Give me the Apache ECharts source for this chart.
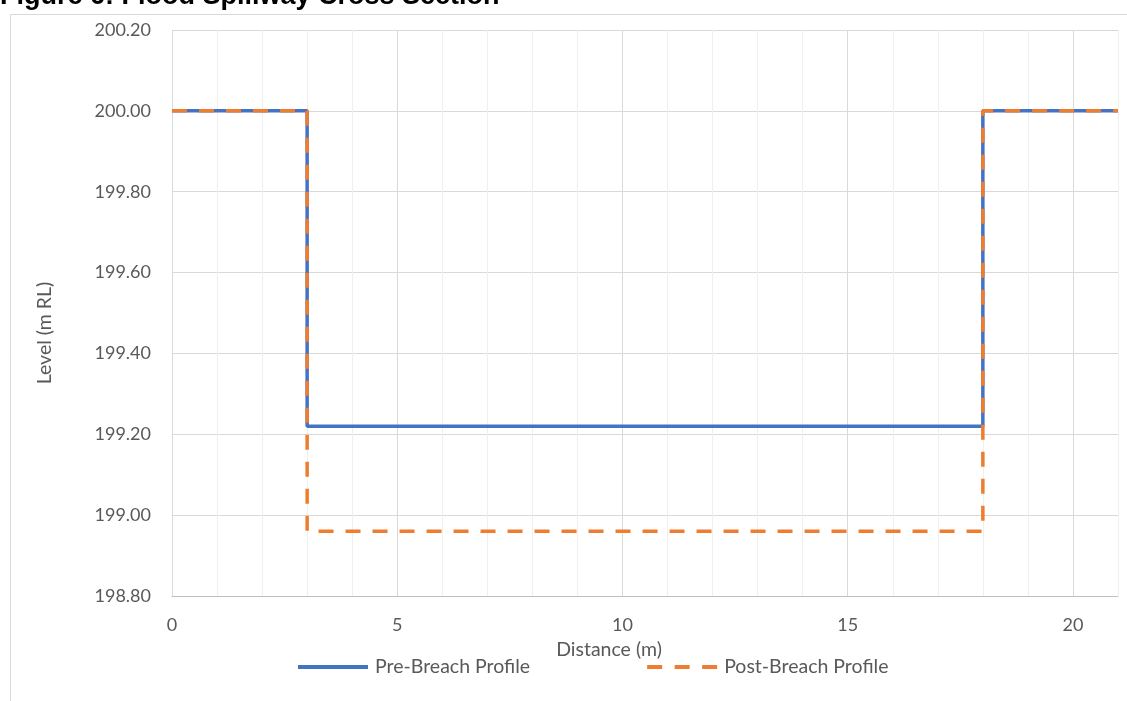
<!DOCTYPE html>
<html>
<head>
<meta charset="utf-8">
<script src="https://cdn.jsdelivr.net/npm/echarts@6/dist/echarts.min.js"></script>
<style>html,body{margin:0;padding:0;background:#fff;}#c{width:1127px;height:701px;}</style>
</head>
<body>
<div id="c"></div>
<script>
const titleText = 'Figure 6: Flood Spillway Cross Section';
const seriesNames = ['Pre-Breach Profile', 'Post-Breach Profile'];
const preX = [0, 3, 3, 18, 18, 21];
const preY = [200.00, 200.00, 199.22, 199.22, 200.00, 200.00];
const postX = [0, 3, 3, 18, 18, 21];
const postY = [200.00, 200.00, 198.96, 198.96, 200.00, 200.00];
const xAxisName = 'Distance (m)';
const yAxisName = 'Level (m RL)';

const font = 'Lato, "Open Sans", sans-serif';
const grey = '#595959';
const chart = echarts.init(document.getElementById('c'));
chart.setOption({
  animation: false,
  backgroundColor: '#fff',
  graphic: [
    {
      type: 'rect', shape: {x: 10.5, y: 14.5, width: 1200, height: 800},
      style: {fill: 'none', stroke: '#d9d9d9', lineWidth: 1}, silent: true, z: -1
    },
    {
      type: 'text', x: 0, y: -17,
      style: {text: titleText, fontFamily: '"Liberation Sans", Arial, sans-serif', fontWeight: 'bold',
              fontSize: 27, fill: '#000', align: 'left', verticalAlign: 'top'}
    },
    {
      type: 'text', x: 45, y: 333, rotation: Math.PI / 2,
      style: {text: yAxisName, fontFamily: font, fontSize: 19.5, fill: grey, align: 'center', verticalAlign: 'middle'}
    },
    {
      type: 'text', x: 609, y: 650,
      style: {text: xAxisName, fontFamily: font, fontSize: 19.5, fill: grey, align: 'center', verticalAlign: 'middle'}
    }
  ],
  grid: {left: 172, right: 9, top: 30, bottom: 105},
  legend: {
    left: 298, top: 657, padding: 0, itemWidth: 70, itemHeight: 4, itemGap: 117,
    textStyle: {fontFamily: font, fontSize: 19.5, color: grey, padding: [0, 0, 0, 2]},
    data: [
      {name: seriesNames[0], icon: 'path://M0,0H70V4H0Z'},
      {name: seriesNames[1], icon: 'path://M0,0H15V4H0Z M27.5,0H42.5V4H27.5Z M55,0H70V4H55Z'}
    ]
  },
  xAxis: {
    type: 'value', min: 0, max: 21, interval: 1,
    axisLine: {show: true, lineStyle: {color: '#bfbfbf', width: 1}},
    axisTick: {show: false},
    axisLabel: {
      fontFamily: font, fontSize: 18, color: grey, margin: 20,
      formatter: v => (v % 5 === 0 ? String(v) : '')
    },
    splitLine: {show: true, lineStyle: {color: ['#d9d9d9', '#efefef', '#efefef', '#efefef', '#efefef'], width: 1}}
  },
  yAxis: {
    type: 'value', min: 198.8, max: 200.2, interval: 0.2,
    axisLine: {show: false}, axisTick: {show: false},
    axisLabel: {fontFamily: font, fontSize: 18, color: grey, margin: 21, formatter: v => v.toFixed(2)},
    splitLine: {show: true, lineStyle: {color: '#d9d9d9', width: 1}}
  },
  series: [
    {
      name: seriesNames[0], type: 'line', symbol: 'none',
      data: preX.map((x, i) => [x, preY[i]]),
      lineStyle: {color: '#4472C4', width: 3.5},
      itemStyle: {color: '#4472C4'}, z: 2
    },
    {
      name: seriesNames[1], type: 'line', symbol: 'none',
      data: postX.map((x, i) => [x, postY[i]]),
      lineStyle: {color: '#ED7D31', width: 3.5, type: [15, 12]},
      itemStyle: {color: '#ED7D31'}, z: 3
    }
  ]
});
</script>
</body>
</html>
